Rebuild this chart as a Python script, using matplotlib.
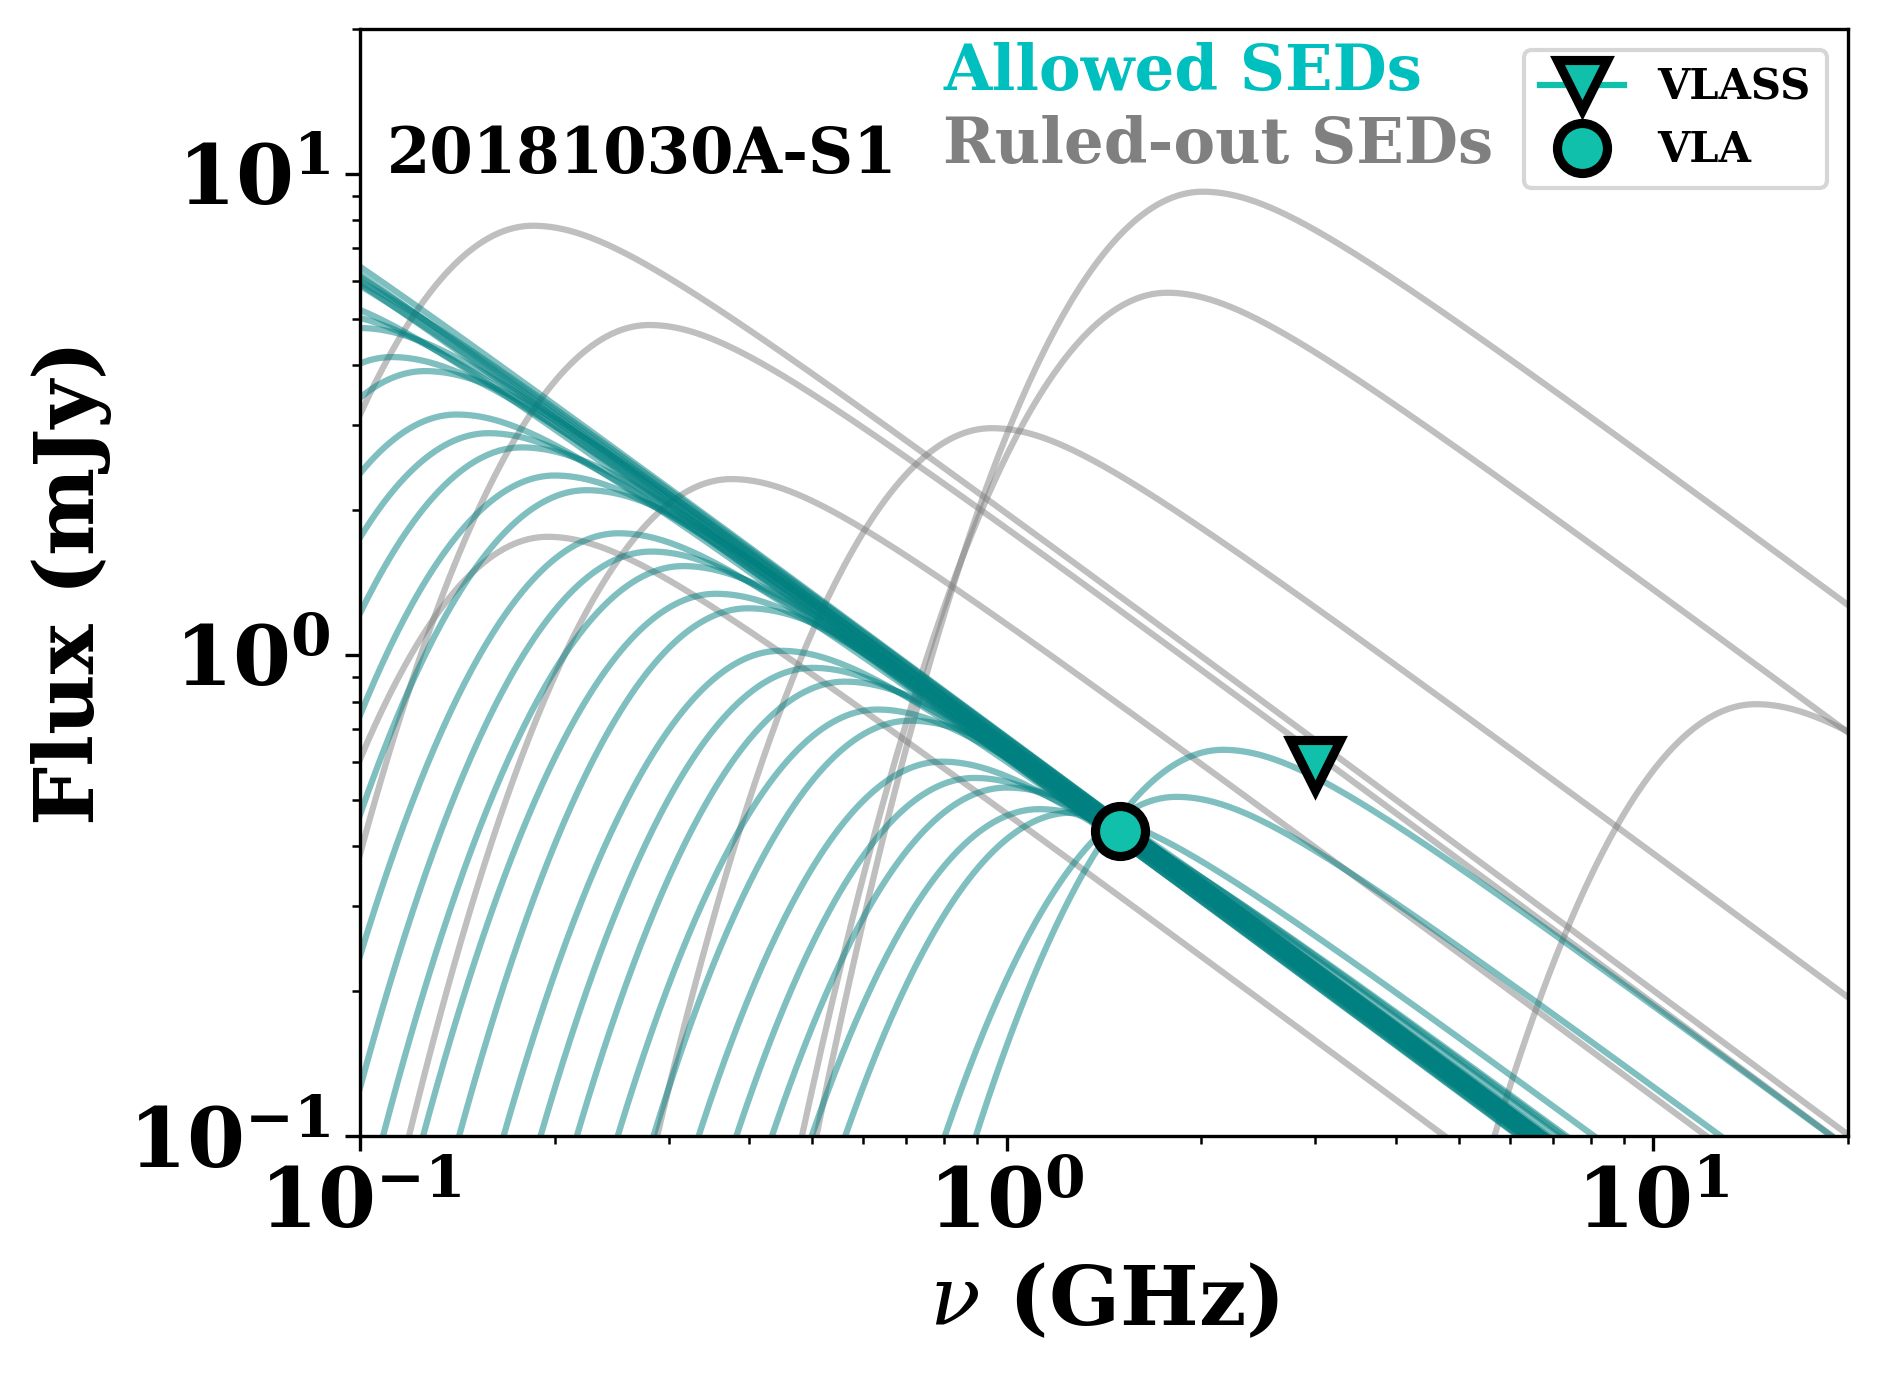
import numpy as np
import matplotlib
matplotlib.use('Agg')
import matplotlib.pyplot as plt

plt.rcParams['font.family'] = 'serif'
plt.rcParams['font.serif'] = ['DejaVu Serif']
plt.rcParams['font.weight'] = 'bold'
plt.rcParams['axes.labelweight'] = 'bold'
plt.rcParams['mathtext.fontset'] = 'custom'
plt.rcParams['mathtext.it'] = 'DejaVu Serif:style=italic:weight=normal'
plt.rcParams['mathtext.rm'] = 'DejaVu Serif:weight=bold'
plt.rcParams['mathtext.bf'] = 'DejaVu Serif:weight=bold'

# peak frequency (GHz) and peak flux (mJy) of each allowed SED
allowed_nu_pk = [0.0398, 0.0447, 0.0501, 0.0562, 0.0631, 0.0708, 0.0794, 0.0891,
                 0.100, 0.112, 0.126, 0.141, 0.158, 0.178, 0.200, 0.224, 0.251,
                 0.282, 0.316, 0.355, 0.398, 0.447, 0.501, 0.562, 0.631, 0.708,
                 0.794, 0.891, 1.000, 1.122, 1.259, 1.83, 2.16]
allowed_f_pk = [11.7, 10.9, 9.06, 8.46, 7.37, 6.88, 5.59, 5.11,
                4.78, 4.16, 3.89, 3.16, 2.89, 2.70, 2.36, 2.20, 1.79,
                1.64, 1.53, 1.34, 1.25, 1.02, 0.94, 0.88, 0.77, 0.73,
                0.60, 0.555, 0.53, 0.478, 0.47, 0.507, 0.635]

# ruled-out SEDs
ruled_nu_pk = [0.185, 0.28, 0.375, 0.195, 0.948, 2.01, 1.77, 14.4]
ruled_f_pk = [7.8, 4.85, 2.32, 1.76, 2.96, 9.18, 5.66, 0.79]

# observations
vla_nu = [1.5]
vla_flux = [0.43]
vlass_nu = [3.0]
vlass_flux = [0.59]

C_RISE = 5.5    # curvature of the optically thick side (log-log)
W_BEND = 0.15   # softness of the turnover into the nu^-1 tail

def sed(nu, nu_pk, f_pk):
    l = np.log10(nu / nu_pk)
    lr = np.where(l < 0, -C_RISE * l**2, -(np.sqrt(l**2 + W_BEND**2) - W_BEND))
    return f_pk * 10**lr

nu = np.logspace(-1, np.log10(20), 600)

fig = plt.figure(figsize=(1877/300, 1374/300), dpi=300)
ax = fig.add_axes([0.1918, 0.1732, 0.7927, 0.8057])

for n, f in zip(ruled_nu_pk, ruled_f_pk):
    ax.plot(nu, sed(nu, n, f), color='gray', alpha=0.5, lw=1.5)
for n, f in zip(allowed_nu_pk, allowed_f_pk):
    ax.plot(nu, sed(nu, n, f), color='teal', alpha=0.5, lw=1.5)

mcol = '#10c0aa'
ax.plot(vlass_nu, vlass_flux, marker='v', color=mcol, mfc=mcol, mec='k', ms=12, mew=2.2,
        label='VLASS', zorder=10)
ax.plot(vla_nu, vla_flux, marker='o', ls='none', mfc=mcol, mec='k', ms=12, mew=2.2,
        label='VLA', zorder=10)

ax.set_xscale('log')
ax.set_yscale('log')
ax.set_xlim(0.1, 20)
ax.set_ylim(0.1, 20)
ax.tick_params(axis='both', which='major', labelsize=20)
ax.set_xlabel(r'$\nu$ (GHz)', fontsize=20)
ax.set_ylabel('Flux (mJy)', fontsize=20)

ax.text(0.018, 0.87, '20181030A-S1', transform=ax.transAxes, fontsize=15)
ax.text(0.392, 0.945, 'Allowed SEDs', transform=ax.transAxes, fontsize=15, color='c')
ax.text(0.392, 0.879, 'Ruled-out SEDs', transform=ax.transAxes, fontsize=15, color='gray')

ax.legend(loc='upper right', prop={'size': 10, 'weight': 'bold'})

fig.savefig('out.png', dpi=300)
